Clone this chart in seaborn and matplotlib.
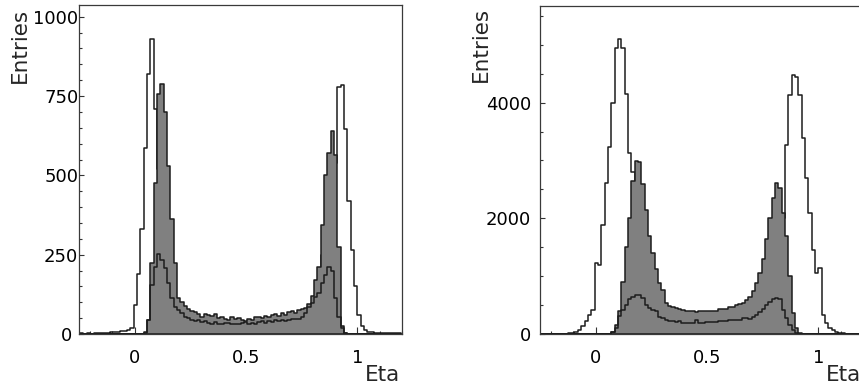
import numpy as np
import pandas as pd
import matplotlib
matplotlib.use("Agg")
import matplotlib.pyplot as plt
from matplotlib.ticker import MultipleLocator
import seaborn as sns

# eta binning shared by all six histograms
bin_start = -0.245
bin_width = 0.015
n_bins = 96

# left panel: full sample (open), selection (shaded), sub-sample (inner line)
left_all = [2, 1, 2, 1, 3, 2, 2, 3, 4,
            5, 6, 7, 8, 10, 12, 18,
            90, 190, 330, 585, 818, 930, 708,
            520, 380, 260, 170, 110, 75, 55,
            45, 38, 34, 30, 28, 27, 26, 26, 25, 25, 24, 25, 24, 24, 23, 24, 24, 25,
            25, 26, 26, 27, 28, 28, 29, 30, 31, 32, 33, 34, 36, 38, 40, 42, 45,
            48, 55, 62, 72, 90, 120, 170, 250, 340, 430, 500, 540,
            780, 784, 646, 420, 265, 150, 60, 25, 13, 7,
            5, 4, 3, 3, 2, 3, 2, 2, 2]
left_sel = [0] * 19 + [
    5, 44, 223, 475, 757, 788, 701, 530, 364, 223, 113,
    100, 88, 78, 72, 70, 62, 55, 64, 60, 58, 62, 50, 55, 48, 45, 52, 47, 50, 44,
    42, 48, 45, 52, 55, 50, 58, 54, 60, 62, 56, 65, 60, 68, 72, 66, 75, 80, 82,
    95, 120, 170, 210, 342, 502, 572, 640, 565, 275, 25, 3] + [0] * 16
left_sub = [0] * 19 + [
    3, 44, 155, 212, 251, 233, 207, 160, 112, 86, 76,
    65, 55, 50, 44, 40, 45, 38, 40, 35, 33, 37, 32, 30, 34, 36, 31, 33, 30, 35,
    38, 33, 36, 32, 38, 40, 36, 42, 38, 44, 40, 45, 42, 44, 48, 46,
    48, 52, 65, 86, 97, 118, 130, 160, 186, 212, 200, 115, 55, 20, 3] + [0] * 16

# right panel
right_all = [0, 0, 0, 0, 2, 3, 4, 6, 10,
             20, 40, 70, 130, 220, 330, 420,
             1220, 1200, 1876, 2607, 3240, 3988, 4938, 5099, 4938, 4144, 3125, 2808,
             2500, 2000, 1500, 1100, 800, 600, 450, 380, 340, 300, 290, 285, 280, 280,
             275, 275, 270, 270, 270, 270, 272, 275, 275, 280, 285, 290, 295, 300, 310,
             320, 335, 350, 380, 420, 480, 560, 680, 850, 1050, 1300, 1550, 1800, 1950,
             2000, 2000,
             3269, 4132, 4477, 4450, 4132, 3384, 2693, 2089, 1456, 1053, 1140,
             334, 190, 104, 63, 29, 17, 12, 8, 6, 5, 3, 3]
right_sel = [0] * 20 + [
    5, 30, 150, 400, 900, 1500, 2000, 2650, 2990, 2980, 2600, 2150, 1700, 1400,
    1120, 880, 760, 540,
    480, 470, 450, 440, 410, 400, 390, 395, 385, 395, 390, 400, 395, 405, 400,
    430, 435, 440, 465, 470, 505, 510, 535, 580,
    640, 740, 880, 1050, 1300, 1650, 2000, 2350, 2618, 2521, 2089, 1686, 995,
    363, 104, 20] + [0] * 18
right_sub = [0] * 21 + [
    30, 100, 305, 420, 506, 604, 640, 679, 679, 622, 506, 450, 410, 391, 300,
    270, 245,
    230, 219, 215, 219, 195, 190, 190, 195, 236, 195, 190, 201, 200, 205, 215,
    219, 222, 230, 236, 238, 247, 245, 270, 276,
    260, 300, 334, 380, 430, 500, 560, 610, 622, 600, 420, 276, 161, 75, 17, 3] + [0] * 18

x_ticks = [0, 0.5, 1]
x_tick_labels = ["0", "0.5", "1"]
left_y_ticks = [0, 250, 500, 750, 1000]
left_y_tick_labels = ["0 ", "250", "500", "750", "1000"]
right_y_ticks = [0, 2000, 4000]
right_y_tick_labels = ["0", "2000", "4000"]

edges = bin_start + bin_width * np.arange(n_bins + 1)
centers = edges[:-1] + bin_width / 2
bin_list = list(edges)

sns.set_style("white")
plt.rcParams["font.family"] = ["DejaVu Sans"]

line_col = "#1c1c1c"
fill_col = "#808080"


def draw_panel(ax, all_counts, sel_counts, sub_counts, ymax,
               yticks, ylabels, yminor, ypad):
    df = pd.DataFrame({"eta": centers, "all": all_counts,
                       "sel": sel_counts, "sub": sub_counts})
    # open histogram first, shaded one over it, inner line on top
    sns.histplot(data=df, x="eta", weights="all", bins=bin_list, element="step",
                 fill=False, color=line_col, linewidth=1.1, zorder=1, ax=ax)
    sns.histplot(data=df, x="eta", weights="sel", bins=bin_list, element="step",
                 fill=True, facecolor=fill_col, edgecolor=line_col,
                 linewidth=1.1, alpha=1, zorder=1.5, ax=ax)
    sns.histplot(data=df, x="eta", weights="sub", bins=bin_list, element="step",
                 fill=False, color=line_col, linewidth=1.1, zorder=2, ax=ax)

    ax.set_xlim(-0.25, 1.2)
    ax.set_ylim(0, ymax)
    ax.set_xlabel("")
    ax.set_ylabel("")
    ax.set_axisbelow(True)

    ax.set_xticks(x_ticks)
    ax.set_xticklabels(x_tick_labels)
    ax.xaxis.set_minor_locator(MultipleLocator(0.1))
    ax.set_yticks(yticks)
    ax.set_yticklabels(ylabels)
    ax.yaxis.set_minor_locator(MultipleLocator(yminor))

    ax.tick_params(axis="both", which="both", direction="in", color="#333333",
                   width=0.8, labelsize=13, labelcolor="black")
    ax.tick_params(axis="x", which="major", length=5, pad=10.5)
    ax.tick_params(axis="x", which="minor", length=2.5)
    ax.tick_params(axis="y", which="major", length=3.6, pad=ypad)
    ax.tick_params(axis="y", which="minor", length=2)
    ax.tick_params(bottom=True, left=True, top=False, right=False)
    ax.tick_params(which="minor", bottom=True, left=True, top=False, right=False)

    for sp in ax.spines.values():
        sp.set_linewidth(0.9)
        sp.set_color("#3a3a3a")
        sp.set_visible(True)


fig = plt.figure(figsize=(8.59, 3.88), dpi=100)
ax1 = fig.add_axes([0.0920, 0.1392, 0.3760, 0.8479])
ax2 = fig.add_axes([0.6286, 0.1392, 0.3760, 0.8454])

draw_panel(ax1, left_all, left_sel, left_sub, 1037,
           left_y_ticks, left_y_tick_labels, 50, 0.5)
draw_panel(ax2, right_all, right_sel, right_sub, 5670,
           right_y_ticks, right_y_tick_labels, 500, 6.3)

# axis titles, ROOT style: y title at the top, x title at the right end
fig.text(19.5 / 859, 1 - 8 / 388, "Entries", rotation=90, ha="center", va="top",
         fontsize=15.5)
fig.text(400 / 859, 1 - 381 / 388, "Eta", ha="right", va="baseline", fontsize=15.5)
fig.text(481 / 859, 1 - 7 / 388, "Entries", rotation=90, ha="center", va="top",
         fontsize=15.5)
fig.text(861 / 859, 1 - 381 / 388, "Eta", ha="right", va="baseline", fontsize=15.5)

fig.savefig("out.png", dpi=100)
